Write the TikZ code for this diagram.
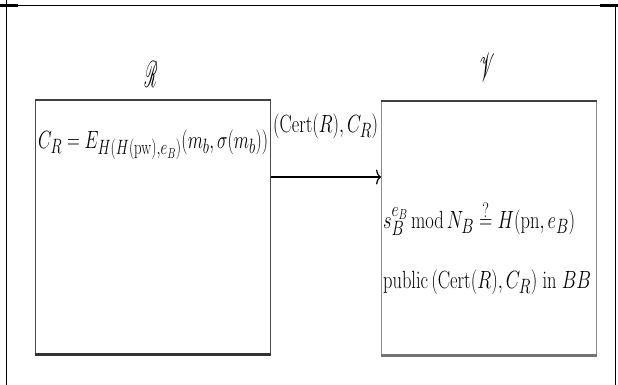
\documentclass[tikz,border=0pt]{standalone}
\usepackage{mathrsfs}
\usepackage{graphicx}
\usetikzlibrary{arrows.meta}
\newcommand{\fitw}[2]{\resizebox{#1}{\height}{#2}}
\begin{document}
\begin{tikzpicture}[x=1pt,y=-1pt,
  frame/.style={line width=1.6pt,black},
  boxline/.style={draw=black!70,line width=1.4pt},
  lbl/.style={inner sep=0pt,font=\fontsize{28}{32}\selectfont},
  every node/.style={inner sep=0pt}]
\useasboundingbox (0,0) rectangle (618,385);
% outer frame
\draw[frame] (0,5.5) -- (618,5.5);
\draw[line width=2.4pt] (0,5.5) -- (18,5.5);
\draw[line width=2.4pt] (600,5.5) -- (618,5.5);
\draw[frame] (6.5,0) -- (6.5,385);
\draw[frame] (615.5,5.5) -- (615.5,385);
% boxes
\node[boxline,minimum width=235,minimum height=253,anchor=north west] (R) at (35,100) {};
\node[boxline,draw=black!45,minimum width=215,minimum height=253,anchor=north west] (V) at (381,101) {};
\draw[black!75,line width=2.2pt] (R.north west) -- (R.north east);
\draw[black!75,line width=2.2pt] (V.north west) -- (V.north east);
\draw[black!80,line width=2.6pt] (R.south west) -- (R.south east);
\draw[black!55,line width=2.6pt] (V.south west) -- (V.south east);
% titles
\node[lbl] (Rt) at (151,74) {\resizebox{13pt}{26pt}{$\mathscr{R}$}};
\node[lbl] (Vt) at (487,67) {\resizebox{15pt}{28pt}{$\mathscr{V}$}};
% left formula
\node[lbl,anchor=base west] (fR) at (38,148) {\fitw{230pt}{$C_R = E_{H(H(\mathrm{pw}),e_B)}(m_b,\sigma(m_b))$}};
% arrow
\draw[-{To[length=5pt,width=15pt]},line width=1.2pt] (R.east |- 0,177) -- (V.west |- 0,177);
\node[lbl,anchor=base west] (al) at (273,132) {\fitw{105pt}{$(\mathrm{Cert}(R),C_R)$}};
% right text
\node[lbl,anchor=base west] (v1) at (383,228) {\fitw{192pt}{$s_B^{e_B}\,\mathrm{mod}\,N_B \stackrel{?}{=} H(\mathrm{pn},e_B)$}};
\node[lbl,anchor=base west] (v2) at (383,288) {\fitw{208pt}{$\mathrm{public}\,(\mathrm{Cert}(R),C_R)\;\mathrm{in}\;BB$}};
\end{tikzpicture}
\end{document}
